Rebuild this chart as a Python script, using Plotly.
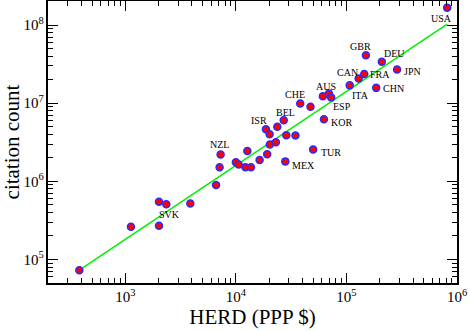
import numpy as np
import plotly.graph_objects as go

# HERD (PPP $) vs citation count, one point per country
herd = [
    384, 1125, 2018, 2018, 2350, 3875, 6620, 7130, 7280,
    1.00e4, 1.06e4, 1.22e4, 1.37e4, 1.27e4, 1.64e4, 1.92e4, 2.03e4, 2.30e4,
    1.87e4, 2.02e4, 2.37e4, 2.71e4, 2.86e4, 3.46e4, 2.80e4,
    3.82e4, 4.73e4, 5.00e4, 6.26e4, 6.12e4, 6.95e4, 7.28e4,
    1.07e5, 1.29e5, 1.45e5, 1.50e5, 2.09e5, 1.86e5, 2.87e5, 8.15e5,
]
citations = [
    7.3e4, 2.62e5, 5.47e5, 2.70e5, 5.10e5, 5.20e5, 9.0e5, 1.51e6, 2.20e6,
    1.75e6, 1.64e6, 1.51e6, 1.51e6, 2.45e6, 1.88e6, 2.22e6, 2.95e6, 3.16e6,
    4.64e6, 4.00e6, 4.98e6, 6.05e6, 3.90e6, 3.85e6, 1.80e6,
    9.9e6, 9.0e6, 2.55e6, 6.24e6, 1.23e7, 1.33e7, 1.18e7,
    1.69e7, 2.07e7, 2.36e7, 4.10e7, 3.40e7, 1.57e7, 2.70e7, 1.67e8,
]
labels = [
    "", "", "", "SVK", "", "", "", "", "NZL",
    "", "", "", "", "", "", "", "", "",
    "ISR", "", "", "BEL", "", "", "MEX",
    "CHE", "", "TUR", "KOR", "", "AUS", "ESP",
    "ITA", "CAN", "FRA", "GBR", "DEU", "CHN", "JPN", "USA",
]

# power-law fit line, endpoints
fit_x = [384, 8.15e5]
fit_y = [7.3e4, 1.03e8]

# label offsets in pixels (dx right, dy up)
offsets = {
    "SVK": (10, 11), "NZL": (-1, 10), "ISR": (-7, 9), "BEL": (2, 8),
    "MEX": (18, -4), "CHE": (-5, 9), "TUR": (18, -3), "KOR": (18, -3),
    "AUS": (-3, 7), "ESP": (11, -9), "ITA": (11, -10), "CAN": (-11, 6),
    "FRA": (16, 0), "GBR": (-5, 9), "DEU": (13, 8), "CHN": (17, -1),
    "JPN": (15, -2), "USA": (-6, -11),
}

SERIF = "Liberation Serif, Times New Roman, serif"

fig = go.Figure()
fig.add_trace(go.Scatter(
    x=fit_x, y=fit_y, mode="lines",
    line=dict(color="#00ee00", width=1.5), hoverinfo="skip",
))
fig.add_trace(go.Scatter(
    x=herd, y=citations, mode="markers",
    marker=dict(size=7, color="#ff0000", line=dict(color="#2a2aff", width=1.5)),
))

for xv, yv, lab in zip(herd, citations, labels):
    if not lab:
        continue
    dx, dy = offsets[lab]
    fig.add_annotation(
        x=np.log10(xv), y=np.log10(yv), text=lab, showarrow=False,
        xshift=dx, yshift=dy, font=dict(family=SERIF, size=10, color="black"),
    )

axis_common = dict(
    type="log", dtick=1, exponentformat="power",
    ticks="inside", ticklen=10, tickwidth=1, tickcolor="black",
    minor=dict(ticks="inside", ticklen=5, tickcolor="black", dtick="D1"),
    showline=True, linecolor="black", linewidth=1.5, mirror="ticks",
    showgrid=False, zeroline=False, automargin=False,
    tickfont=dict(family=SERIF, size=12, color="black"),
)

fig.update_xaxes(
    range=[np.log10(200), 6],
    title=dict(text="HERD (PPP $)", font=dict(family=SERIF, size=21, color="black"), standoff=0),
    **axis_common,
)
fig.update_yaxes(
    range=[np.log10(5e4), np.log10(2.03e8)],
    title=dict(text="citation count", font=dict(family=SERIF, size=21, color="black"), standoff=0),
    **axis_common,
)
fig.update_layout(
    width=469, height=331,
    margin=dict(l=48, r=12, t=1, b=48),
    paper_bgcolor="white", plot_bgcolor="white",
    showlegend=False,
)
# drop the browser's default 8px body margin so the figure sits at the page corner
fig.write_html(
    "out.html",
    config={"displayModeBar": False},
    post_script="document.body.style.margin = '0';",
)
